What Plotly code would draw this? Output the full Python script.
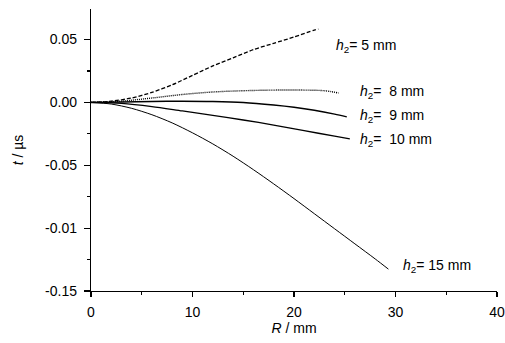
import plotly.graph_objects as go

# Data
R5 = [0, 2, 4, 6, 8, 10, 12, 14, 16, 18, 20, 22, 22.4]
T5 = [0, 0.001, 0.0035, 0.008, 0.014, 0.0215, 0.029, 0.0355, 0.042, 0.047, 0.052, 0.0575, 0.0583]

R8 = [0, 3, 6, 9, 12, 15, 18, 21, 23, 24.4]
T8 = [0, 0.001, 0.0035, 0.0063, 0.0083, 0.0093, 0.0098, 0.0098, 0.0093, 0.0075]

R9 = [0, 3, 6, 9, 12, 15, 18, 20, 22, 24, 25.2]
T9 = [0, 0.0003, 0.0008, 0.001, 0.0008, 0.0, -0.002, -0.0038, -0.0062, -0.0093, -0.0115]

R10 = [0, 3, 6, 9, 12, 15, 18, 21, 24, 25.5]
T10 = [0, -0.0008, -0.0033, -0.0068, -0.0103, -0.014, -0.018, -0.0225, -0.0268, -0.029]

R15 = [0, 2, 4, 6, 8, 10, 12, 14, 16, 18, 20, 22, 24, 26, 28, 29.3]
T15 = [0, -0.0013, -0.0047, -0.0098, -0.0163, -0.0242, -0.033, -0.0428, -0.0535, -0.0648,
       -0.0765, -0.0885, -0.1005, -0.1125, -0.1245, -0.1326]

series = [
    (R5, T5, "4px,2px", 1.3),
    (R8, T8, "1px,1px", 1.4),
    (R9, T9, "solid", 1.5),
    (R10, T10, "solid", 1.3),
    (R15, T15, "solid", 1.0),
]

labels = [
    ("<i>h</i><sub>2</sub>=\u00a05\u00a0mm", 23.9, 0.045),
    ("<i>h</i><sub>2</sub>=\u00a0\u00a08\u00a0mm", 26.3, 0.0082),
    ("<i>h</i><sub>2</sub>=\u00a0\u00a09\u00a0mm", 26.3, -0.011),
    ("<i>h</i><sub>2</sub>=\u00a0\u00a010\u00a0mm", 26.3, -0.030),
    ("<i>h</i><sub>2</sub>=\u00a015\u00a0mm", 30.5, -0.130),
]

ytickvals = [0.05, 0.0, -0.05, -0.10, -0.15]
yticktext = ["0.05", "0.00", "-0.05", "-0.01", "-0.15"]
xtickvals = [0, 10, 20, 30, 40]

FONT = "Liberation Sans, Arial, sans-serif"

fig = go.Figure()
for r, t, dash, w in series:
    fig.add_trace(go.Scatter(x=r, y=t, mode="lines",
                             line=dict(color="black", width=w, dash=dash, shape="spline", smoothing=0.8),
                             showlegend=False, hoverinfo="skip"))

for txt, x, y in labels:
    fig.add_annotation(x=x, y=y, text=txt, showarrow=False, xanchor="left", yanchor="middle",
                       font=dict(size=14, color="black", family=FONT))

fig.update_layout(
    width=505, height=343,
    margin=dict(l=91, r=8, t=9, b=52),
    plot_bgcolor="white", paper_bgcolor="white",
    font=dict(family=FONT, size=14, color="black"),
    xaxis=dict(range=[0, 40], tickvals=xtickvals, showgrid=False, zeroline=False,
               automargin=False,
               showline=True, linecolor="black", linewidth=1.2,
               ticks="outside", ticklen=5, tickcolor="black", tickwidth=1.2,
               ticklabelstandoff=3,
               minor=dict(dtick=5, ticks="outside", ticklen=3, tickcolor="black", tickwidth=1.2),
               title=dict(text="<i>R</i> / mm", standoff=4, font=dict(size=14))),
    yaxis=dict(range=[-0.15, 0.0743], tickvals=ytickvals, ticktext=yticktext,
               showgrid=False, zeroline=False, automargin=False,
               showline=True, linecolor="black", linewidth=1.2,
               ticks="outside", ticklen=6, tickcolor="black", tickwidth=1.2,
               ticklabelstandoff=4,
               minor=dict(dtick=0.025, tick0=0, ticks="outside", ticklen=3, tickcolor="black", tickwidth=1.2),
               title=dict(text="<i>t</i> / µs", standoff=18, font=dict(size=14))),
)

fig.write_html("out.html",
               config={"displayModeBar": False, "staticPlot": True},
               post_script="document.body.style.margin='0';document.body.style.overflow='hidden';")
